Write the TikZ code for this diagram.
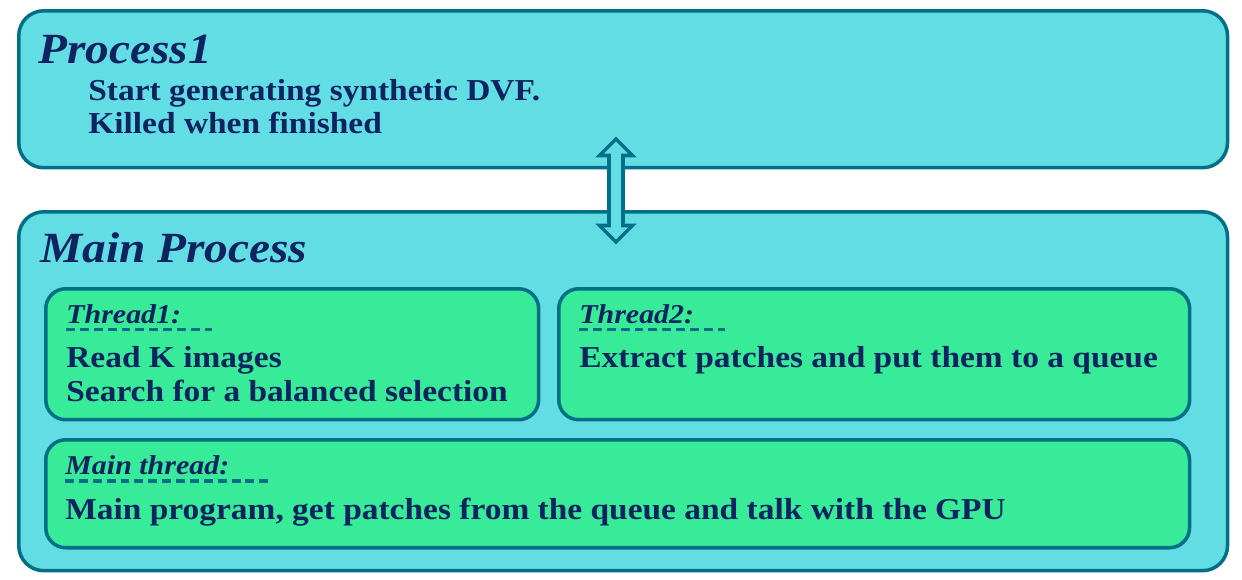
\documentclass[tikz,border=0pt]{standalone}
\usepackage{fontspec}
\setmainfont{Liberation Serif}[FakeStretch=1.1]

\definecolor{proccyan}{HTML}{62DDE4}
\definecolor{threadgreen}{HTML}{37EB98}
\definecolor{edgeteal}{HTML}{036F86}
\definecolor{inknavy}{HTML}{0E2360}

\begin{document}
\begin{tikzpicture}[x=0.02cm,y=-0.02cm,text=inknavy,
  procbox/.style={draw=edgeteal, line width=2pt, fill=proccyan,
    rounded corners=0.5cm, anchor=north west, inner sep=0pt},
  threadbox/.style={procbox, fill=threadgreen, rounded corners=0.4cm},
  proctitle/.style={anchor=base west, inner sep=0pt,
    font=\fontsize{24.5}{28}\selectfont\bfseries\itshape},
  threadname/.style={anchor=base west, inner sep=0pt,
    font=\fontsize{15.5}{18}\selectfont\bfseries\itshape},
  body/.style={anchor=base west, inner sep=0pt,
    font=\fontsize{17.3}{20}\selectfont\bfseries},
  uline/.style={draw=edgeteal, line width=1.9pt, dash pattern=on 5.1pt off 2.8pt},
  fatarrow/.style={draw=edgeteal, line width=2pt, fill=proccyan, line join=miter}]

\useasboundingbox (0,0) rectangle (1242,579);

% the two processes
\node[procbox, minimum width=24.18cm, minimum height=3.14cm] (p1) at (17,9) {};
\node[procbox, minimum width=24.18cm, minimum height=7.18cm] (mainp) at (17,210) {};

% threads of the main process
\node[threadbox, minimum width=9.86cm, minimum height=2.62cm] (t1) at (44,287) {};
\node[threadbox, minimum width=12.62cm, minimum height=2.62cm] (t2) at (557,287) {};
\node[threadbox, minimum width=22.88cm, minimum height=2.16cm] (tm) at (44,438) {};

% link between the processes
\coordinate (lnk) at (616,190.5);
\draw[fatarrow] (lnk) ++(0,-51.5) -- ++(16.5,16.5) -- ++(-9.5,0) -- ++(0,70)
  -- ++(9.5,0) -- ++(-16.5,16.5) -- ++(-16.5,-16.5) -- ++(9.5,0)
  -- ++(0,-70) -- ++(-9.5,0) -- cycle;

\node[proctitle] (p1name) at (38,63) {Process1};
\node[body] (p1a) at (88,100) {Start generating synthetic DVF.};
\node[body] (p1b) at (88,133) {Killed when finished};

\node[proctitle] (mainname) at (40,262) {Main Process};

\begin{scope}
\node[threadname] (t1name) at (66,323) {Thread1:};
\draw[uline] (t1name.base west) ++(0,6.5) -- ++(146,0);
\node[body] (t1a) at (66,367) {Read K images};
\node[body] (t1b) at (66,401) {Search for a balanced selection};
\end{scope}

\begin{scope}
\node[threadname] (t2name) at (579,323) {Thread2:};
\draw[uline] (t2name.base west) ++(0,6.5) -- ++(146,0);
\node[body] (t2a) at (579,367) {Extract patches and put them to a queue};
\end{scope}

\begin{scope}
\node[threadname] (tmname) at (65,474) {Main thread:};
\draw[uline] (tmname.base west) ++(0,7) -- ++(205,0);
\node[body] (tma) at (65,519) {Main program, get patches from the queue and talk with the GPU};
\end{scope}

\end{tikzpicture}
\end{document}
